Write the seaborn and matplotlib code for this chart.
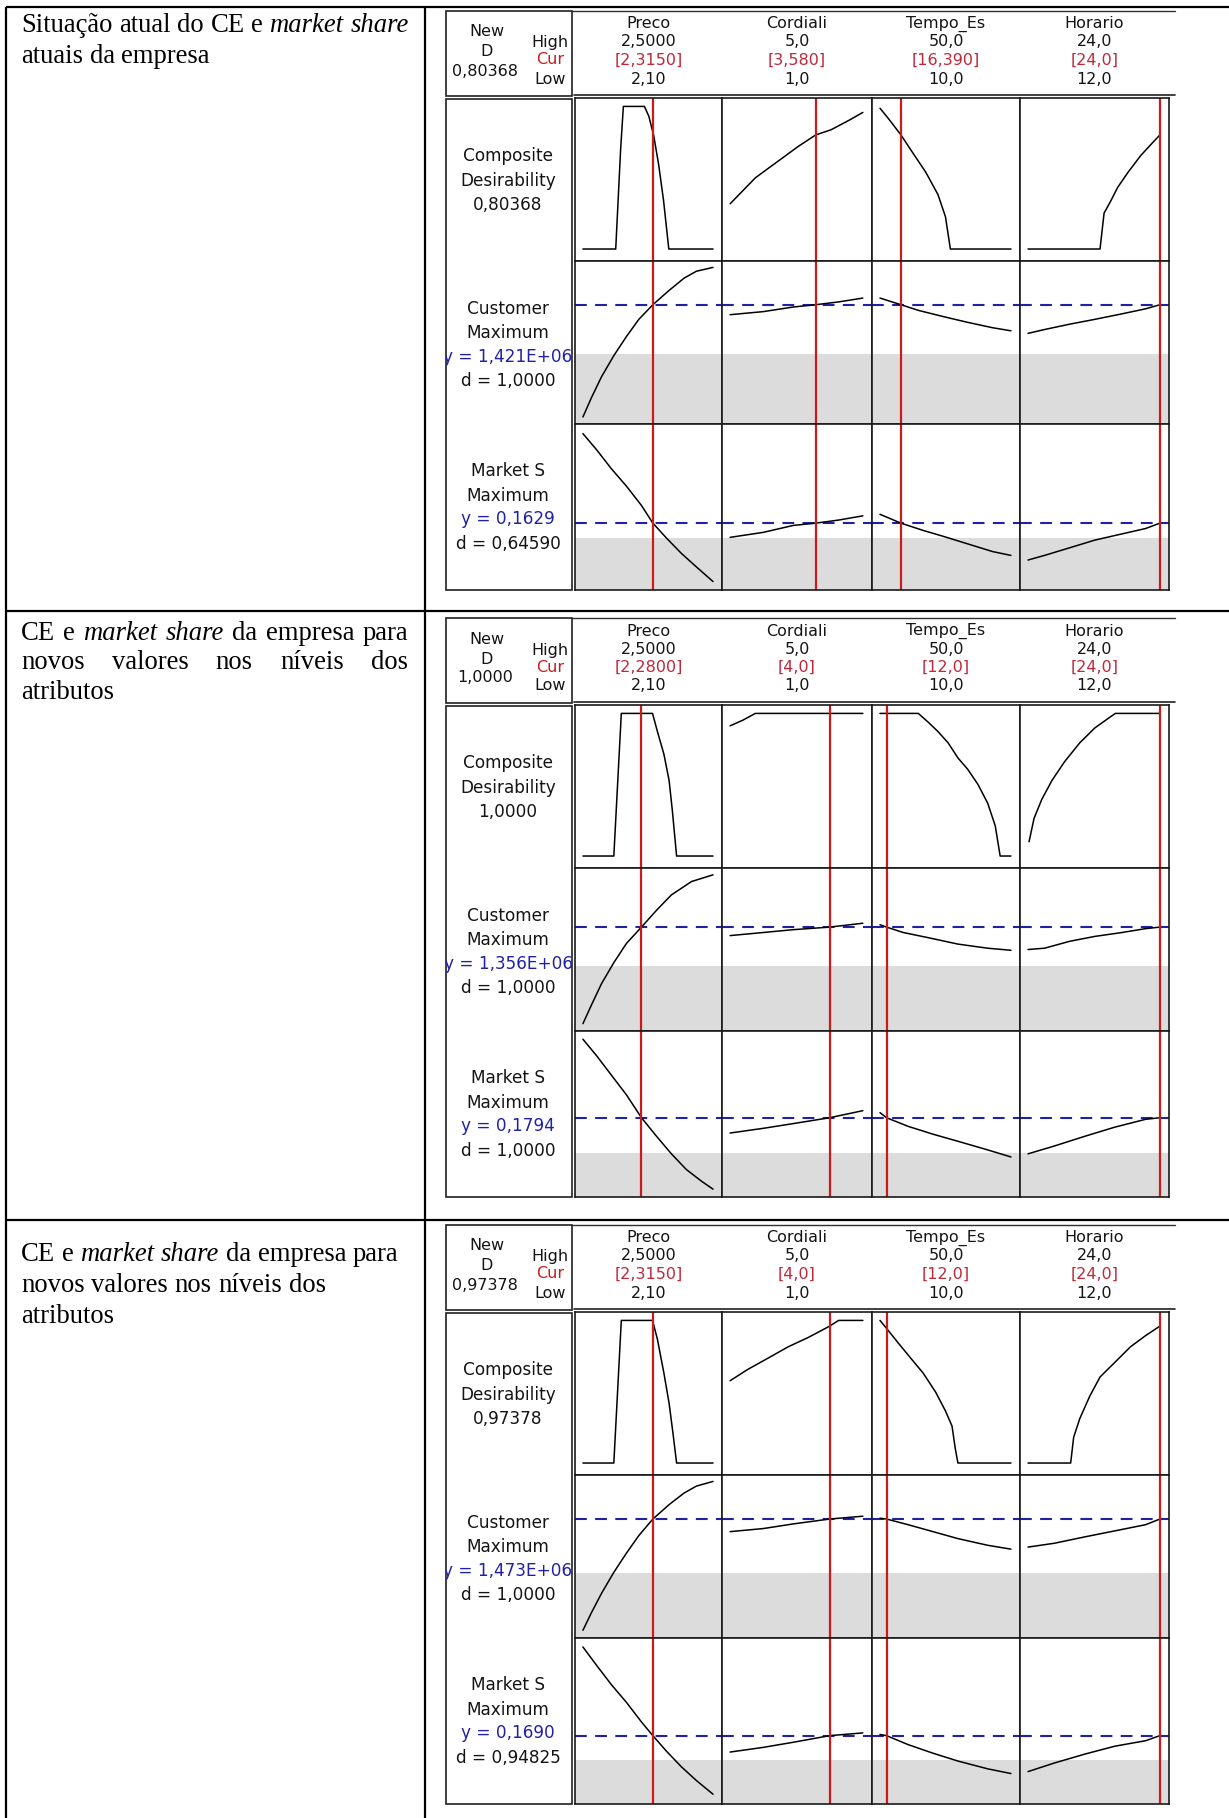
import seaborn as sns
import matplotlib.pyplot as plt
from matplotlib.patches import Rectangle

# ---- factor settings (same for the three optimizer plots) ----
factors = ['Preco', 'Cordiali', 'Tempo_Es', 'Horario']
factor_high = ['2,5000', '5,0', '50,0', '24,0']
factor_low = ['2,10', '1,0', '10,0', '12,0']
factor_min = [2.10, 1.0, 10.0, 12.0]
factor_max = [2.50, 5.0, 50.0, 24.0]

# ---- current settings of each optimizer plot ----
cur_values = [[2.315, 3.58, 16.39, 24.0],
              [2.28, 4.0, 12.0, 24.0],
              [2.315, 4.0, 12.0, 24.0]]
cur_labels = [['[2,3150]', '[3,580]', '[16,390]', '[24,0]'],
              ['[2,2800]', '[4,0]', '[12,0]', '[24,0]'],
              ['[2,3150]', '[4,0]', '[12,0]', '[24,0]']]
composite_d = ['0,80368', '1,0000', '0,97378']
customer_y = [1.421, 1.356, 1.473]          # x 1E+06
customer_y_text = ['y = 1,421E+06', 'y = 1,356E+06', 'y = 1,473E+06']
customer_d = ['d = 1,0000', 'd = 1,0000', 'd = 1,0000']
market_y = [0.1629, 0.1794, 0.1690]
market_y_text = ['y = 0,1629', 'y = 0,1794', 'y = 0,1690']
market_d = ['d = 0,64590', 'd = 1,0000', 'd = 0,94825']

# response scales (lower bound of the grey zone and visible range)
customer_low = [1.229, 1.206, 1.2615]
customer_ylim = [(0.9545, 1.592), (0.9525, 1.5855), (1.011, 1.644)]
market_low = [0.1551, 0.1614, 0.1564]
market_ylim = [(0.1281, 0.2145), (0.139, 0.2236), (0.134, 0.219)]

# ---- curves: (x, y) per factor ----
p1_composite = [
    ([2.10, 2.2008, 2.216, 2.2243, 2.289, 2.3025, 2.3177, 2.333, 2.348, 2.364, 2.50], [0, 0, 0.703, 1.0, 1.0, 0.932, 0.795, 0.589, 0.338, 0, 0]),
    ([1.0, 1.38, 1.76, 2.14, 2.60, 3.05, 3.58, 4.04, 4.57, 5.0], [0.317, 0.408, 0.499, 0.564, 0.642, 0.719, 0.80, 0.836, 0.901, 0.958]),
    ([10.0, 12.6, 16.4, 20.2, 24.0, 27.7, 30.0, 31.5, 50.0], [0.987, 0.914, 0.80, 0.668, 0.538, 0.382, 0.226, 0.0, 0.0]),
    ([12.0, 18.55, 18.92, 19.48, 20.17, 21.1, 22.25, 23.17, 24.0], [0, 0, 0.252, 0.33, 0.434, 0.538, 0.655, 0.732, 0.80]),
]
p1_customer = [
    ([2.100, 2.126, 2.157, 2.195, 2.234, 2.272, 2.315, 2.365, 2.411, 2.449, 2.500], [0.982, 1.057, 1.139, 1.222, 1.297, 1.364, 1.421, 1.477, 1.525, 1.552, 1.567]),
    ([1.0, 2.0, 2.9, 3.58, 4.27, 5.0], [1.382, 1.394, 1.412, 1.421, 1.432, 1.447]),
    ([10.0, 16.39, 21.7, 29.2, 36.8, 44.4, 50.0], [1.447, 1.421, 1.399, 1.375, 1.352, 1.331, 1.319]),
    ([12.0, 13.5, 15.8, 18.1, 20.4, 22.7, 24.0], [1.309, 1.324, 1.345, 1.364, 1.384, 1.405, 1.421]),
]
p1_market = [
    ([2.100, 2.142, 2.188, 2.234, 2.280, 2.315, 2.357, 2.403, 2.449, 2.500], [0.2095, 0.2011, 0.1911, 0.1821, 0.1721, 0.1629, 0.1551, 0.1471, 0.1401, 0.1325]),
    ([1.0, 2.0, 2.9, 3.58, 4.27, 5.0], [0.1555, 0.1581, 0.1617, 0.1629, 0.1645, 0.1667]),
    ([10.0, 16.39, 23.2, 29.2, 36.8, 44.4, 50.0], [0.1675, 0.1629, 0.1591, 0.1561, 0.1521, 0.1481, 0.1461]),
    ([12.0, 13.5, 15.8, 18.1, 20.4, 22.7, 24.0], [0.1437, 0.1461, 0.1501, 0.1541, 0.1571, 0.1601, 0.1629]),
]
p2_composite = [
    ([2.10, 2.195, 2.218, 2.314, 2.329, 2.349, 2.365, 2.375, 2.388, 2.50], [0, 0, 1.0, 1.0, 0.873, 0.714, 0.529, 0.317, 0, 0]),
    ([1.0, 1.38, 1.76, 5.0], [0.913, 0.952, 1.0, 1.0]),
    ([10.0, 21.7, 24.7, 27.7, 30.8, 33.8, 36.8, 39.9, 42.9, 45.2, 46.7, 50.0], [1.0, 1.0, 0.939, 0.873, 0.794, 0.688, 0.608, 0.503, 0.370, 0.212, 0.0, 0.0]),
    ([12.09, 12.55, 13.25, 14.17, 15.32, 16.71, 18.09, 19.94, 24.0], [0.10, 0.265, 0.397, 0.529, 0.661, 0.794, 0.899, 1.0, 1.0]),
]
p2_customer = [
    ([2.100, 2.126, 2.157, 2.195, 2.234, 2.280, 2.326, 2.372, 2.434, 2.500], [0.981, 1.053, 1.136, 1.218, 1.293, 1.356, 1.421, 1.481, 1.533, 1.559]),
    ([1.0, 2.0, 2.9, 4.0, 5.0], [1.323, 1.335, 1.346, 1.356, 1.371]),
    ([10.0, 12.0, 17.1, 24.7, 33.8, 42.9, 50.0], [1.365, 1.356, 1.335, 1.315, 1.290, 1.274, 1.266]),
    ([12.0, 13.5, 15.8, 18.1, 20.4, 22.7, 24.0], [1.269, 1.274, 1.301, 1.320, 1.334, 1.350, 1.356]),
]
p2_market = [
    ([2.100, 2.142, 2.188, 2.234, 2.280, 2.326, 2.372, 2.418, 2.465, 2.500], [0.2194, 0.211, 0.201, 0.191, 0.1794, 0.170, 0.161, 0.153, 0.147, 0.143]),
    ([1.0, 2.0, 2.9, 4.0, 5.0], [0.1716, 0.174, 0.1764, 0.1794, 0.183]),
    ([10.0, 12.0, 18.6, 26.2, 33.8, 42.9, 50.0], [0.182, 0.1794, 0.175, 0.171, 0.1674, 0.163, 0.1594]),
    ([12.0, 14.4, 17.2, 19.9, 22.7, 24.0], [0.161, 0.165, 0.170, 0.1746, 0.1786, 0.1794]),
]
p3_composite = [
    ([2.10, 2.195, 2.218, 2.314, 2.329, 2.349, 2.365, 2.377, 2.388, 2.50], [0, 0, 1.0, 1.0, 0.868, 0.63, 0.418, 0.206, 0, 0]),
    ([1.0, 1.53, 2.14, 2.75, 3.36, 4.0, 4.27, 5.0], [0.577, 0.656, 0.735, 0.815, 0.881, 0.96, 1.0, 1.0]),
    ([10.0, 11.8, 15.6, 19.4, 23.2, 27.0, 30.0, 32.0, 33.0, 33.8, 50.0], [1.0, 0.95, 0.841, 0.735, 0.63, 0.497, 0.365, 0.259, 0.10, 0.0, 0.0]),
    ([12.0, 15.88, 16.15, 16.71, 17.63, 18.55, 19.94, 21.32, 22.71, 24.0], [0, 0, 0.18, 0.312, 0.471, 0.603, 0.709, 0.815, 0.894, 0.96]),
]
p3_customer = [
    ([2.100, 2.126, 2.157, 2.195, 2.234, 2.272, 2.315, 2.365, 2.411, 2.449, 2.500], [1.041, 1.109, 1.184, 1.266, 1.341, 1.409, 1.473, 1.529, 1.574, 1.601, 1.619]),
    ([1.0, 2.0, 2.9, 4.0, 5.0], [1.424, 1.436, 1.454, 1.473, 1.484]),
    ([10.0, 12.0, 18.6, 26.2, 33.8, 42.9, 50.0], [1.476, 1.473, 1.451, 1.424, 1.397, 1.371, 1.356]),
    ([12.0, 14.4, 17.2, 19.9, 22.7, 24.0], [1.364, 1.379, 1.404, 1.427, 1.451, 1.473]),
]
p3_market = [
    ([2.100, 2.142, 2.188, 2.234, 2.280, 2.315, 2.357, 2.403, 2.449, 2.500], [0.2144, 0.205, 0.195, 0.186, 0.176, 0.169, 0.161, 0.153, 0.146, 0.139]),
    ([1.0, 2.0, 2.9, 4.0, 5.0], [0.1606, 0.163, 0.1656, 0.169, 0.1704]),
    ([10.0, 12.0, 18.6, 26.2, 33.8, 42.9, 50.0], [0.1696, 0.169, 0.1644, 0.160, 0.156, 0.152, 0.1496]),
    ([12.0, 14.4, 17.2, 19.9, 22.7, 24.0], [0.1506, 0.155, 0.1596, 0.1636, 0.1664, 0.169]),
]
curves = [[p1_composite, p1_customer, p1_market],
          [p2_composite, p2_customer, p2_market],
          [p3_composite, p3_customer, p3_market]]

# ---- text of the left column (word, italic) ----
row_lines = [
    [[('Situação', 0), ('atual', 0), ('do', 0), ('CE', 0), ('e', 0), ('market', 1), ('share', 1)],
     [('atuais', 0), ('da', 0), ('empresa', 0)]],
    [[('CE', 0), ('e', 0), ('market', 1), ('share', 1), ('da', 0), ('empresa', 0), ('para', 0)],
     [('novos', 0), ('valores', 0), ('nos', 0), ('níveis', 0), ('dos', 0)],
     [('atributos', 0)]],
    [[('CE', 0), ('e', 0), ('market', 1), ('share', 1), ('da', 0), ('empresa', 0), ('para', 0)],
     [('novos', 0), ('valores', 0), ('nos', 0), ('níveis', 0), ('dos', 0)],
     [('atributos', 0)]],
]
row_justify = [[False, False], [True, True, False], [False, False, False]]

# ---------------------------------------------------------------
sns.set_style('white')
plt.rcParams['lines.scale_dashes'] = False
W, H = 1229, 1818
fig = plt.figure(figsize=(W / 100, H / 100), dpi=100)
bg = fig.add_axes([0, 0, 1, 1])
bg.set_xlim(0, W)
bg.set_ylim(H, 0)
bg.axis('off')

# table lines
TL = dict(color='black', lw=1.6, solid_capstyle='butt')
bg.plot([6, W], [7, 7], **TL)
bg.plot([6, 6], [7, H], **TL)
bg.plot([425, 425], [7, H], **TL)
for yy in [611, 1220]:
    bg.plot([6, W], [yy, yy], **TL)

# left column text
SERIF = 'Liberation Serif'
FS = 19.2
renderer = fig.canvas.get_renderer()


def measure(s, italic):
    t = bg.text(0, 0, s, fontsize=FS, family=SERIF, style='italic' if italic else 'normal')
    w = t.get_window_extent(renderer).width
    t.remove()
    return w


space_w = measure('a a', 0) - measure('aa', 0)
baselines = [[32, 63], [640, 669, 699], [1261, 1292, 1323]]
for r, lines in enumerate(row_lines):
    for li, words in enumerate(lines):
        widths = [measure(w, it) for w, it in words]
        x0, x1 = 21, 408
        if row_justify[r][li] and len(words) > 1:
            gap = (x1 - x0 - sum(widths)) / (len(words) - 1)
        else:
            gap = space_w
        x = x0
        for (w, it), wd in zip(words, widths):
            bg.text(x, baselines[r][li], w, fontsize=FS, family=SERIF, color='black',
                    style='italic' if it else 'normal', va='baseline', ha='left')
            x += wd + gap

# optimizer plots
COL_EDGES = [575, 722, 872, 1020, 1169]
ROW_EDGES = [98, 261, 424, 590]
PANEL_DY = [0, 607, 1214]
SANS = 'DejaVu Sans'
RED = '#cc1a1a'
RED_TXT = '#c0283a'
BLUE = '#2121a8'
TXT = '#141414'
LFS = 12.2
HFS = 11.5

for p in range(3):
    dy = PANEL_DY[p]
    # header box and label box
    bg.add_patch(Rectangle((446, 11 + dy), 126, 85, fill=False, lw=1.2, ec='#202020'))
    label_box = Rectangle((446, 99 + dy), 126, 491, fill=False, lw=1.2, ec='#202020')
    bg.add_patch(label_box)
    bg.plot([572, 1175], [11 + dy, 11 + dy], color='#303030', lw=1.0)
    bg.plot([574, 1175], [95 + dy, 95 + dy], color='#202020', lw=1.2)
    bg.text(487, 32 + dy, 'New', fontsize=HFS, family=SANS, color=TXT, ha='center', va='center')
    bg.text(487, 52 + dy, 'D', fontsize=HFS, family=SANS, color=TXT, ha='center', va='center')
    bg.text(485, 71 + dy, composite_d[p], fontsize=HFS, family=SANS, color=TXT, ha='center', va='center')
    bg.text(550, 43 + dy, 'High', fontsize=HFS, family=SANS, color=TXT, ha='center', va='center')
    bg.text(550, 60 + dy, 'Cur', fontsize=HFS, family=SANS, color=RED, ha='center', va='center')
    bg.text(550, 79 + dy, 'Low', fontsize=HFS, family=SANS, color=TXT, ha='center', va='center')
    for c in range(4):
        cx = (COL_EDGES[c] + COL_EDGES[c + 1]) / 2
        bg.text(cx, 24 + dy, factors[c], fontsize=HFS, family=SANS, color=TXT, ha='center', va='center')
        bg.text(cx, 42 + dy, factor_high[c], fontsize=HFS, family=SANS, color=TXT, ha='center', va='center')
        bg.text(cx, 60 + dy, cur_labels[p][c], fontsize=HFS, family=SANS, color=RED_TXT, ha='center', va='center')
        bg.text(cx, 79 + dy, factor_low[c], fontsize=HFS, family=SANS, color=TXT, ha='center', va='center')

    # row labels (clipped to the label box like the original)
    labels = [
        [(156, 'Composite', TXT), (181, 'Desirability', TXT), (205, composite_d[p], TXT)],
        [(309, 'Customer', TXT), (333, 'Maximum', TXT), (357, customer_y_text[p], BLUE), (381, customer_d[p], TXT)],
        [(471, 'Market S', TXT), (496, 'Maximum', TXT), (519, market_y_text[p], BLUE), (544, market_d[p], TXT)],
    ]
    for rl in labels:
        for yy, s, col in rl:
            t = bg.text(508, yy + dy, s, fontsize=LFS, family=SANS, color=col, ha='center', va='center')
            t.set_clip_path(label_box)
            t.set_clip_on(True)

    for r in range(3):
        for c in range(4):
            x0, x1 = COL_EDGES[c], COL_EDGES[c + 1]
            y0, y1 = ROW_EDGES[r] + dy, ROW_EDGES[r + 1] + dy
            ax = fig.add_axes([x0 / W, 1 - y1 / H, (x1 - x0) / W, (y1 - y0) / H])
            rng = factor_max[c] - factor_min[c]
            ax.set_xlim(factor_min[c] - 0.061 * rng, factor_max[c] + 0.069 * rng)
            if r == 0:
                ax.set_ylim(-0.084, 1.059)
            elif r == 1:
                ax.set_ylim(*customer_ylim[p])
                ax.axhspan(customer_ylim[p][0], customer_low[p], color='#dcdcdc', lw=0)
                ax.axhline(customer_y[p], color=BLUE, lw=1.5, ls=(0, (8.5, 6)))
            else:
                ax.set_ylim(*market_ylim[p])
                ax.axhspan(market_ylim[p][0], market_low[p], color='#dcdcdc', lw=0)
                ax.axhline(market_y[p], color=BLUE, lw=1.5, ls=(0, (8.5, 6)))
            xs, ys = curves[p][r][c]
            sns.lineplot(x=xs, y=ys, ax=ax, color='black', lw=1.1, sort=False, estimator=None)
            ax.axvline(cur_values[p][c], color=RED, lw=1.6)
            ax.set_xticks([])
            ax.set_yticks([])
            ax.set_xlabel('')
            ax.set_ylabel('')
            for sp in ax.spines.values():
                sp.set_color('#1a1a1a')
                sp.set_linewidth(1.2)

fig.savefig('out.png', dpi=100, facecolor='white')
